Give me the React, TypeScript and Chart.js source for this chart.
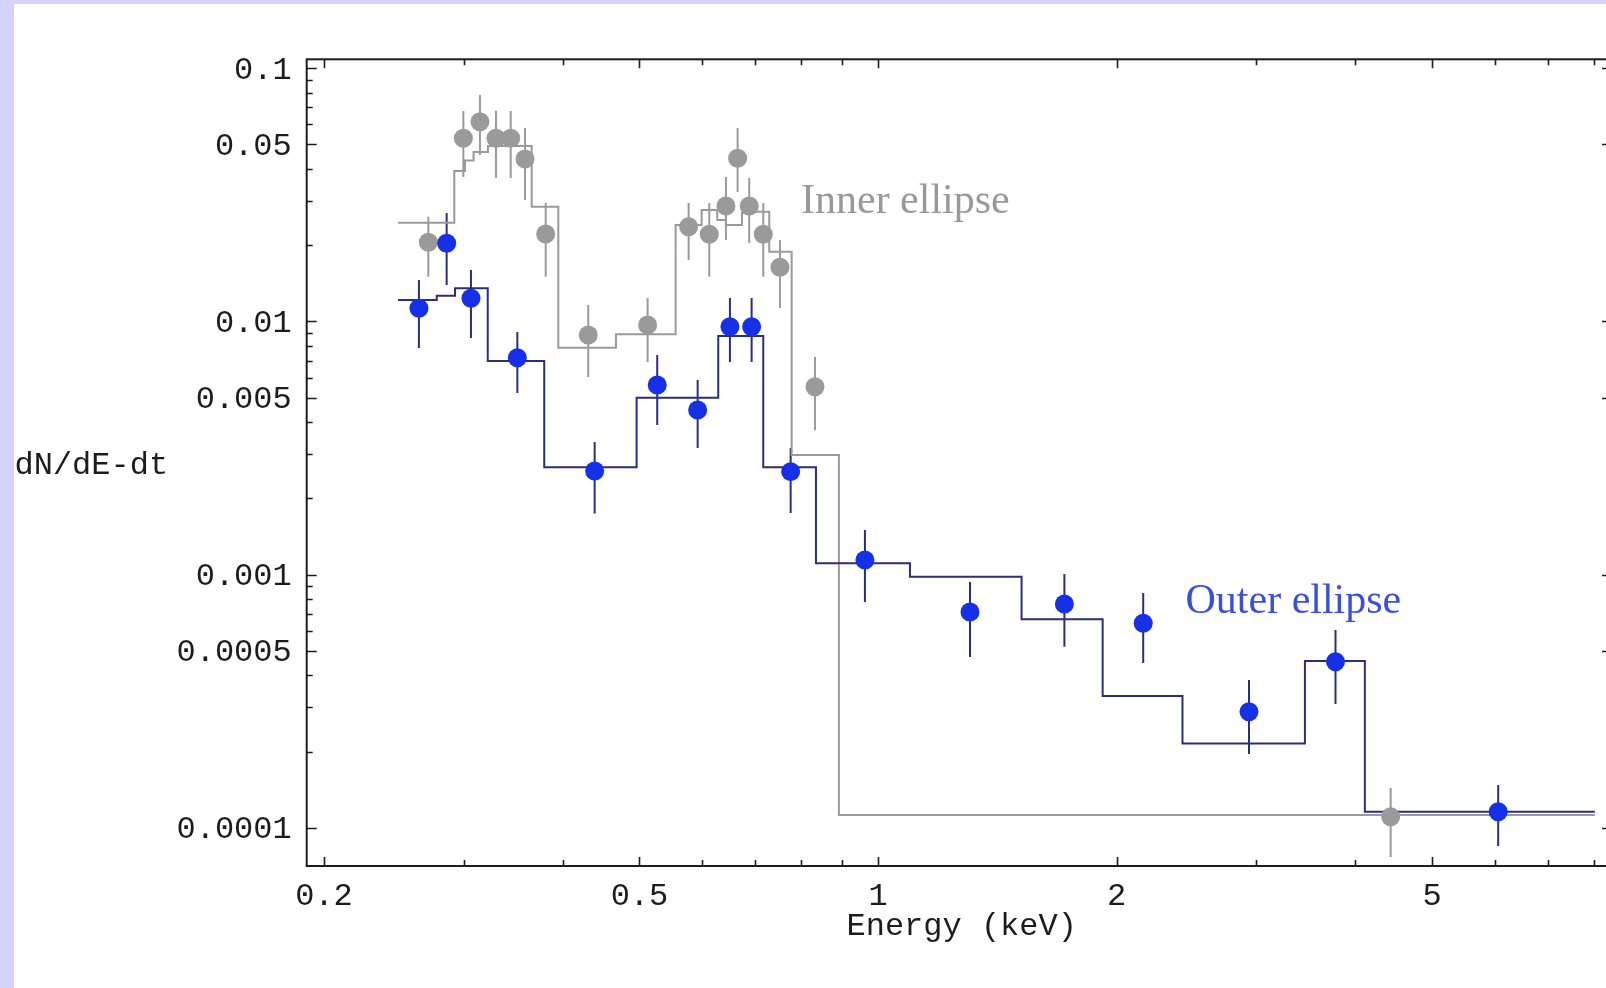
import React, { useEffect, useRef } from "react";
import { Chart, registerables } from "chart.js";

Chart.register(...registerables);

// ---- Outer ellipse (blue) data points ----
const outerEnergy = [0.2635, 0.2856, 0.3065, 0.3507, 0.439, 0.5265, 0.5921, 0.6503, 0.6926, 0.7757, 0.9625, 1.306, 1.718, 2.16, 2.937, 3.776, 6.057];
const outerFlux = [0.01127, 0.02035, 0.01234, 0.00719, 0.002565, 0.00561, 0.004467, 0.00953, 0.00953, 0.00255, 0.001142, 0.000711, 0.000765, 0.000642, 0.0002872, 0.0004526, 0.0001157];
const outerLow = [0.00785, 0.01392, 0.0086, 0.00521, 0.001743, 0.0039, 0.00316, 0.00691, 0.00691, 0.00175, 0.000779, 0.000472, 0.000519, 0.000447, 0.0001955, 0.000308, 0.0000847];
const outerHigh = [0.01457, 0.02682, 0.01597, 0.00909, 0.00334, 0.00737, 0.00587, 0.01237, 0.01237, 0.00316, 0.0015, 0.000934, 0.001005, 0.000845, 0.000383, 0.000604, 0.0001475];

// ---- Inner ellipse (grey) data points ----
const innerEnergy = [0.2708, 0.2998, 0.3146, 0.3296, 0.344, 0.3586, 0.3808, 0.4309, 0.512, 0.5768, 0.6124, 0.6428, 0.665, 0.6878, 0.7164, 0.752, 0.8325, 4.432];
const innerFlux = [0.02054, 0.0529, 0.0615, 0.0529, 0.0529, 0.0438, 0.02215, 0.00884, 0.00968, 0.02367, 0.02209, 0.02858, 0.04408, 0.02858, 0.02209, 0.01636, 0.00552, 0.0001105];
const innerLow = [0.015, 0.0372, 0.0454, 0.0369, 0.0369, 0.0302, 0.015, 0.00603, 0.00691, 0.01749, 0.015, 0.02098, 0.03245, 0.0204, 0.015, 0.0113, 0.00372, 0.0000766];
const innerHigh = [0.02593, 0.0678, 0.0784, 0.068, 0.0678, 0.0581, 0.02937, 0.01161, 0.01237, 0.02937, 0.02937, 0.0372, 0.0581, 0.0369, 0.02937, 0.02098, 0.00724, 0.0001435];

// ---- Model histograms (bin edges + levels) ----
const outerEdges = [0.248, 0.2775, 0.2926, 0.3218, 0.3792, 0.4959, 0.6286, 0.7164, 0.8349, 1.097, 1.517, 1.92, 2.421, 3.455, 4.112, 8.02];
const outerModel = [0.01216, 0.01263, 0.01351, 0.006976, 0.002653, 0.004996, 0.008757, 0.002653, 0.001108, 0.000981, 0.000666, 0.0003313, 0.000215, 0.0004555, 0.0001157];
const innerEdges = [0.248, 0.292, 0.3012, 0.3088, 0.322, 0.3656, 0.395, 0.467, 0.5554, 0.599, 0.6268, 0.6428, 0.6734, 0.6953, 0.729, 0.778, 0.8924, 8.02];
const innerModel = [0.02455, 0.03928, 0.04321, 0.04669, 0.04932, 0.0284, 0.00787, 0.008893, 0.02404, 0.02756, 0.02516, 0.02404, 0.02682, 0.02714, 0.01886, 0.002968, 0.0001122];

// ---- Axes ----
const xMajor = [0.2, 0.5, 1, 2, 5];
const xMajorLabels = ["0.2", "0.5", "1", "2", "5"];
const xMinor = [0.3, 0.4, 0.6, 0.7, 0.8, 0.9, 3, 4, 6, 7, 8];
const yMajor = [0.1, 0.05, 0.01, 0.005, 0.001, 0.0005, 0.0001];
const yMajorLabels = ["0.1", "0.05", "0.01", "0.005", "0.001", "0.0005", "0.0001"];
const yMinor = [
  0.09, 0.08, 0.07, 0.06, 0.04, 0.03, 0.02,
  0.009, 0.008, 0.007, 0.006, 0.004, 0.003, 0.002,
  0.0009, 0.0008, 0.0007, 0.0006, 0.0004, 0.0003, 0.0002,
];
const xMin = 0.1902;
const xMax = 8.43;
const yMin = 0.0000706;
const yMax = 0.1085;

const xTitle = "Energy (keV)";
const yTitle = "dN/dE-dt";
const innerLabel = "Inner ellipse";
const outerLabel = "Outer ellipse";

const MONO = "'Liberation Mono', 'DejaVu Sans Mono', monospace";
const SERIF = "'Liberation Serif', 'DejaVu Serif', serif";

const INK = "#1c1c1c";
const GREY = "#9a9a9a";
const BLUE_PT = "#1530e6";
const BLUE_LINE = "#2a2d80";

function stepData(edges: number[], levels: number[]) {
  return edges.map((e, i) => ({ x: e, y: levels[Math.min(i, levels.length - 1)] }));
}

const decorPlugin = {
  id: "decor",
  beforeDatasetsDraw(chart: any) {
    const ctx = chart.ctx;
    const xs = chart.scales.x;
    const ys = chart.scales.y;
    ctx.save();
    ctx.beginPath();
    const a = chart.chartArea;
    ctx.rect(a.left, a.top, a.right - a.left, a.bottom - a.top);
    ctx.clip();
    ctx.lineWidth = 2;
    const bars = (ex: number[], lo: number[], hi: number[], color: string) => {
      ctx.strokeStyle = color;
      ex.forEach((e, i) => {
        const px = xs.getPixelForValue(e);
        ctx.beginPath();
        ctx.moveTo(px, ys.getPixelForValue(lo[i]));
        ctx.lineTo(px, ys.getPixelForValue(hi[i]));
        ctx.stroke();
      });
    };
    bars(innerEnergy, innerLow, innerHigh, GREY);
    bars(outerEnergy, outerLow, outerHigh, BLUE_LINE);
    ctx.restore();
  },
  afterDraw(chart: any) {
    const ctx = chart.ctx;
    const xs = chart.scales.x;
    const ys = chart.scales.y;
    const { left, right, top, bottom } = chart.chartArea;
    ctx.save();
    ctx.strokeStyle = INK;
    ctx.lineWidth = 2;
    ctx.strokeRect(left, top, right - left, bottom - top);
    ctx.lineWidth = 1.6;
    const xt = (v: number, len: number) => {
      const p = Math.round(xs.getPixelForValue(v)) + 0.5;
      ctx.beginPath();
      ctx.moveTo(p, bottom);
      ctx.lineTo(p, bottom - len);
      ctx.moveTo(p, top);
      ctx.lineTo(p, top + len);
      ctx.stroke();
    };
    const yt = (v: number, len: number) => {
      const p = Math.round(ys.getPixelForValue(v)) + 0.5;
      ctx.beginPath();
      ctx.moveTo(left, p);
      ctx.lineTo(left + len, p);
      ctx.moveTo(right, p);
      ctx.lineTo(right - len, p);
      ctx.stroke();
    };
    xMajor.forEach((v) => xt(v, 9));
    xMinor.forEach((v) => xt(v, 6));
    yMajor.forEach((v) => yt(v, 10));
    yMinor.forEach((v) => yt(v, 6));

    // y tick labels, placed through the y scale
    ctx.fillStyle = INK;
    ctx.font = `32px ${MONO}`;
    ctx.textBaseline = "alphabetic";
    ctx.textAlign = "right";
    yMajor.forEach((v, i) => {
      ctx.fillText(yMajorLabels[i], left - 15, ys.getPixelForValue(v) + 10.5);
    });

    ctx.textAlign = "left";
    ctx.fillText(yTitle, 0.5, 470);
    ctx.textAlign = "center";
    ctx.fillText(xTitle, 947.7, 931);

    ctx.font = `42px ${SERIF}`;
    ctx.textAlign = "left";
    ctx.fillStyle = "#999999";
    ctx.fillText(innerLabel, 787, 208.5);
    ctx.fillStyle = "#3a4fdc";
    ctx.fillText(outerLabel, 1171.5, 609);
    ctx.restore();
  },
};

export default function App() {
  const ref = useRef<HTMLCanvasElement | null>(null);
  useEffect(() => {
    if (!ref.current) return;
    const xTicks = [...xMajor, ...xMinor].sort((a, b) => a - b);
    const yTicks = [...yMajor, ...yMinor].sort((a, b) => a - b);
    const chart = new Chart(ref.current, {
      type: "scatter",
      data: {
        datasets: [
          {
            label: "Outer ellipse",
            data: outerEnergy.map((e, i) => ({ x: e, y: outerFlux[i] })),
            backgroundColor: BLUE_PT,
            borderWidth: 0,
            pointRadius: 9.5,
            pointHoverRadius: 9.5,
            showLine: false,
            order: 0,
          },
          {
            label: "Inner ellipse",
            data: innerEnergy.map((e, i) => ({ x: e, y: innerFlux[i] })),
            backgroundColor: GREY,
            borderWidth: 0,
            pointRadius: 9.5,
            pointHoverRadius: 9.5,
            showLine: false,
            order: 1,
          },
          {
            label: "Outer model",
            data: stepData(outerEdges, outerModel),
            showLine: true,
            stepped: "before",
            borderColor: BLUE_LINE,
            borderWidth: 2,
            pointRadius: 0,
            fill: false,
            order: 2,
          },
          {
            label: "Inner model",
            data: stepData(innerEdges, innerModel),
            showLine: true,
            stepped: "before",
            borderColor: GREY,
            borderWidth: 2,
            pointRadius: 0,
            fill: false,
            order: 3,
          },
        ],
      } as any,
      options: {
        animation: false,
        responsive: true,
        maintainAspectRatio: false,
        devicePixelRatio: 1,
        layout: { autoPadding: false, padding: { left: 0, top: 55.3, right: 2, bottom: 0 } },
        plugins: { legend: { display: false }, tooltip: { enabled: false } },
        events: [],
        scales: {
          x: {
            type: "logarithmic",
            min: xMin,
            max: xMax,
            bounds: "data",
            grid: { display: false, drawTicks: false },
            border: { display: false },
            afterBuildTicks: (s: any) => {
              s.ticks = xTicks.map((v) => ({ value: v }));
            },
            afterFit: (s: any) => {
              s.height = 122;
              s.paddingLeft = 0;
              s.paddingRight = 0;
            },
            ticks: {
              autoSkip: false,
              maxRotation: 0,
              minRotation: 0,
              padding: 11,
              color: INK,
              font: { family: MONO, size: 32 },
              callback: (v: any) => {
                const i = xMajor.indexOf(Number(v));
                return i >= 0 ? xMajorLabels[i] : "";
              },
            },
          },
          y: {
            type: "logarithmic",
            min: yMin,
            max: yMax,
            bounds: "data",
            grid: { display: false, drawTicks: false },
            border: { display: false },
            afterBuildTicks: (s: any) => {
              s.ticks = yTicks.map((v) => ({ value: v }));
            },
            afterFit: (s: any) => {
              s.width = 292.7;
              s.paddingTop = 0;
              s.paddingBottom = 0;
            },
            ticks: { display: false },
          },
        },
      } as any,
      plugins: [decorPlugin],
    });
    return () => chart.destroy();
  }, []);

  return (
    <div
      style={{
        position: "fixed",
        left: 0,
        top: 0,
        width: "100vw",
        height: "100vh",
        overflow: "hidden",
        background: "#d4d4fa",
      }}
    >
      <div
        style={{
          position: "absolute",
          left: 14,
          top: 4,
          width: 1600,
          height: 984,
          background: "#ffffff",
        }}
      >
        <canvas ref={ref} style={{ display: "block" }} />
      </div>
    </div>
  );
}
